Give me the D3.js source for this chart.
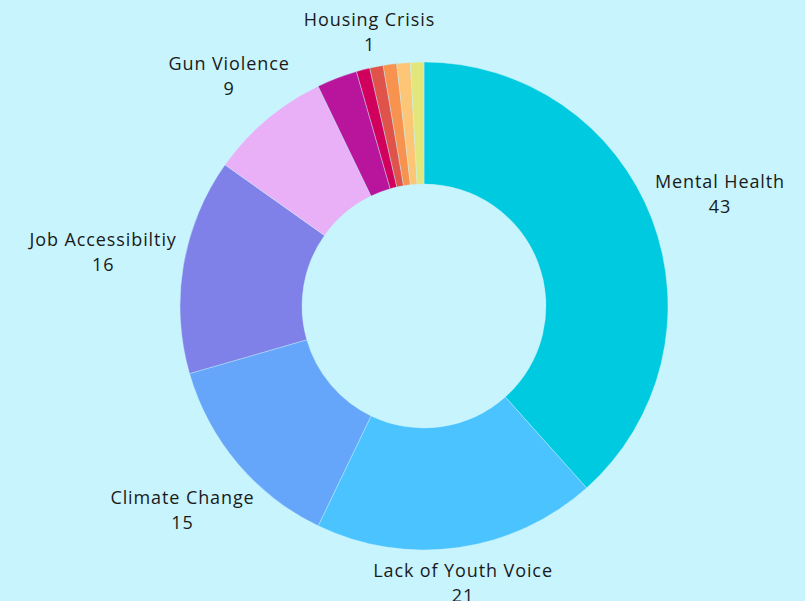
<!DOCTYPE html>
<html>
<head>
<meta charset="utf-8">
<script src="https://cdn.jsdelivr.net/npm/d3@7"></script>
<style>
  html, body { margin: 0; padding: 0; background: #c8f4fe; }
  svg { display: block; }
  .lbl { font-family: "Open Sans", "Noto Sans", sans-serif; font-size: 18px; letter-spacing: 0.9px; fill: #1a1a1a; }
</style>
</head>
<body>
<svg id="chart" width="805" height="601"></svg>
<script>
// Slices, in drawing order (clockwise from 12 o'clock)
const categories = ["Mental Health", "Lack of Youth Voice", "Climate Change", "Job Accessibiltiy",
                    "Gun Violence", "Other A", "Other B", "Housing Crisis", "Other C", "Other D", "Other E"];
const values = [43, 21, 15, 16, 9, 3, 1, 1, 1, 1, 1];
const showLabel = [true, true, true, true, true, false, false, true, false, false, false];
const colors = ["#00cadf", "#4bc3ff", "#65a6fa", "#7f80e8", "#e9b0f8", "#b8159c",
                "#d1005c", "#e0534a", "#f7924f", "#fdc677", "#e3e67a"];

const width = 805, height = 601;
const cx = 424, cy = 306;
const outerR = 244, innerR = 122;
const clearR = 250; // labels keep clear of this circle

const svg = d3.select("#chart");
const g = svg.append("g").attr("transform", `translate(${cx},${cy})`);

const data = categories.map((c, i) => ({ name: c, value: values[i], color: colors[i], show: showLabel[i] }));

const pie = d3.pie().value(d => d.value).sort(null);
const arc = d3.arc().innerRadius(innerR).outerRadius(outerR);
const arcs = pie(data);

g.selectAll("path.slice")
    .data(arcs)
    .enter().append("path")
    .attr("class", "slice")
    .attr("d", arc)
    .attr("fill", d => d.data.color)
    .attr("stroke", "#c8f4fe")
    .attr("stroke-width", 0.4);

// Labels: name + value, box pushed out along the slice's mid-angle
const lineGap = 25;
const halfH = 17; // visual half height of the two-line label
const labels = g.selectAll("g.label")
    .data(arcs.filter(d => d.data.show))
    .enter().append("g")
    .attr("class", "label");

labels.append("text")
    .attr("class", "lbl")
    .attr("text-anchor", "middle")
    .attr("y", -lineGap / 2 + 6)
    .text(d => d.data.name);

labels.append("text")
    .attr("class", "lbl")
    .attr("text-anchor", "middle")
    .attr("y", lineGap / 2 + 6)
    .text(d => d.data.value);

labels.attr("transform", function(d) {
    const bb = this.getBBox();
    const w = bb.width / 2;
    const a = (d.startAngle + d.endAngle) / 2;
    const ux = Math.sin(a), uy = -Math.cos(a);
    const dist = clearR + w * Math.abs(ux) + halfH * Math.abs(uy);
    const ox = bb.x + w, oy = bb.y + bb.height / 2; // box centre in local coords
    return `translate(${dist * ux - ox},${dist * uy - oy})`;
});
</script>
</body>
</html>
